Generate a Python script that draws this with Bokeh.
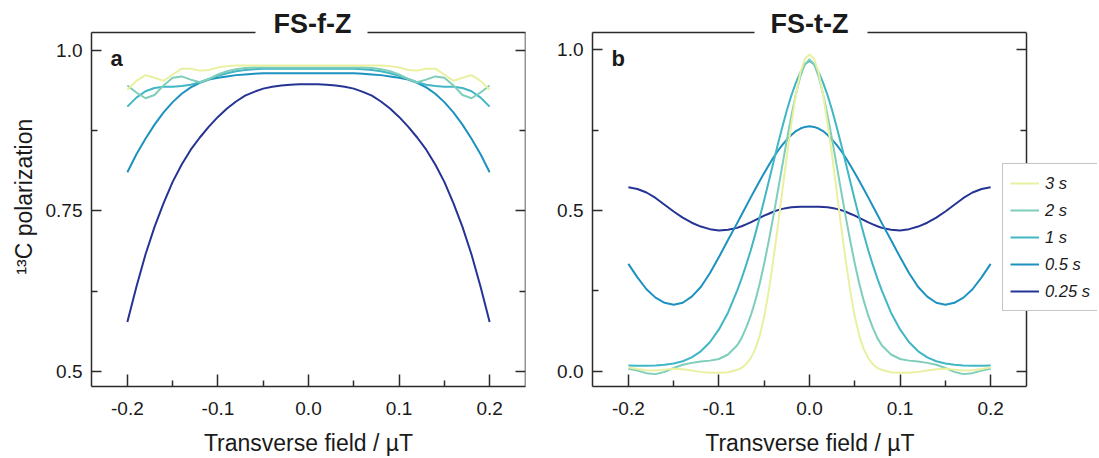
from bokeh.plotting import figure
from bokeh.models import (Range1d, FixedTicker, LinearAxis, Label, Legend,
                          LegendItem, ColumnDataSource, Title)
from bokeh.layouts import row
from bokeh.embed import file_html
from bokeh.resources import INLINE

# ---------------- data ----------------
series_labels = ["3 s", "2 s", "1 s", "0.5 s", "0.25 s"]
series_colors = ["#e9f0a0", "#7fcdbb", "#41b6c4", "#1d91c0", "#253494"]

x_ticks = [-0.2, -0.1, 0.0, 0.1, 0.2]
x_tick_labels = ["-0.2", "-0.1", "0.0", "0.1", "0.2"]
x_minor = [-0.15, -0.05, 0.05, 0.15]

ya_ticks = [0.5, 0.75, 1.0]
ya_tick_labels = ["0.5", "0.75", "1.0"]
ya_minor = [0.625, 0.875]

yb_ticks = [0.0, 0.5, 1.0]
yb_tick_labels = ["0.0", "0.5", "1.0"]
yb_minor = [0.25, 0.75]

# panel a (FS-f-Z)
field_a = [-0.2, -0.19, -0.18, -0.17, -0.16, -0.15, -0.14, -0.13, -0.12, -0.11,
           -0.1, -0.09, -0.08, -0.07, -0.06, -0.05, -0.04, -0.03, -0.02, -0.01,
           0.0, 0.01, 0.02, 0.03, 0.04, 0.05, 0.06, 0.07, 0.08, 0.09, 0.1,
           0.11, 0.12, 0.13, 0.14, 0.15, 0.16, 0.17, 0.18, 0.19, 0.2]
a_3s = [0.938, 0.952, 0.961, 0.957, 0.952, 0.962, 0.971, 0.971, 0.968, 0.969,
        0.973, 0.975, 0.976, 0.976, 0.976, 0.976, 0.976, 0.976, 0.976, 0.976,
        0.976, 0.976, 0.976, 0.976, 0.976, 0.976, 0.976, 0.976, 0.976, 0.975,
        0.973, 0.969, 0.968, 0.971, 0.971, 0.962, 0.952, 0.957, 0.961, 0.952, 0.938]
a_2s = [0.945, 0.934, 0.925, 0.930, 0.945, 0.957, 0.959, 0.954, 0.950, 0.955,
        0.962, 0.967, 0.970, 0.972, 0.973, 0.973, 0.973, 0.973, 0.973, 0.973,
        0.973, 0.973, 0.973, 0.973, 0.973, 0.973, 0.973, 0.972, 0.970, 0.967,
        0.962, 0.955, 0.950, 0.954, 0.959, 0.957, 0.945, 0.930, 0.925, 0.934, 0.945]
a_1s = [0.912, 0.926, 0.936, 0.941, 0.943, 0.943, 0.944, 0.946, 0.950, 0.955,
        0.960, 0.964, 0.967, 0.969, 0.970, 0.971, 0.971, 0.971, 0.971, 0.971,
        0.971, 0.971, 0.971, 0.971, 0.971, 0.971, 0.970, 0.969, 0.967, 0.964,
        0.960, 0.955, 0.950, 0.946, 0.944, 0.943, 0.943, 0.941, 0.936, 0.926, 0.912]
a_05s = [0.810, 0.838, 0.862, 0.884, 0.903, 0.919, 0.932, 0.942, 0.949, 0.954,
         0.957, 0.959, 0.961, 0.962, 0.963, 0.964, 0.964, 0.964, 0.964, 0.964,
         0.964, 0.964, 0.964, 0.964, 0.964, 0.964, 0.963, 0.962, 0.961, 0.959,
         0.957, 0.954, 0.949, 0.942, 0.932, 0.919, 0.903, 0.884, 0.862, 0.838, 0.810]
a_025s = [0.577, 0.632, 0.682, 0.725, 0.762, 0.795, 0.822, 0.845, 0.864, 0.881,
          0.896, 0.909, 0.920, 0.929, 0.935, 0.940, 0.943, 0.945, 0.946, 0.947,
          0.947, 0.947, 0.946, 0.945, 0.943, 0.940, 0.935, 0.929, 0.920, 0.909,
          0.896, 0.881, 0.864, 0.845, 0.822, 0.795, 0.762, 0.725, 0.682, 0.632, 0.577]

# panel b (FS-t-Z)
field_b = [-0.2, -0.19, -0.18, -0.17, -0.16, -0.15, -0.14, -0.13, -0.12, -0.11,
           -0.1, -0.09, -0.08, -0.075, -0.07, -0.065, -0.06, -0.055, -0.05,
           -0.045, -0.04, -0.035, -0.03, -0.025, -0.02, -0.015, -0.01, -0.005,
           0.0, 0.005, 0.01, 0.015, 0.02, 0.025, 0.03, 0.035, 0.04, 0.045, 0.05,
           0.055, 0.06, 0.065, 0.07, 0.075, 0.08, 0.09, 0.1, 0.11, 0.12, 0.13,
           0.14, 0.15, 0.16, 0.17, 0.18, 0.19, 0.2]
b_3s = [0.012, 0.007, 0.003, 0.002, 0.005, 0.008, 0.006, 0.002, -0.002, -0.005,
        -0.005, -0.003, 0.004, 0.010, 0.022, 0.040, 0.068, 0.110, 0.170, 0.250,
        0.345, 0.450, 0.560, 0.670, 0.770, 0.860, 0.930, 0.972, 0.985,
        0.972, 0.930, 0.860, 0.770, 0.670, 0.560, 0.450, 0.345, 0.250, 0.170,
        0.110, 0.068, 0.040, 0.022, 0.010, 0.004, -0.003, -0.005, -0.005, -0.002,
        0.002, 0.006, 0.008, 0.005, 0.002, 0.003, 0.007, 0.012]
b_2s = [0.008, 0.002, -0.006, -0.009, -0.002, 0.010, 0.020, 0.026, 0.030, 0.033,
        0.038, 0.052, 0.080, 0.103, 0.135, 0.172, 0.218, 0.272, 0.335, 0.405,
        0.480, 0.560, 0.640, 0.720, 0.795, 0.862, 0.918, 0.955, 0.970,
        0.955, 0.918, 0.862, 0.795, 0.720, 0.640, 0.560, 0.480, 0.405, 0.335,
        0.272, 0.218, 0.172, 0.135, 0.103, 0.080, 0.052, 0.038, 0.033, 0.030,
        0.026, 0.020, 0.010, -0.002, -0.009, -0.006, 0.002, 0.008]
b_1s = [0.018, 0.017, 0.017, 0.018, 0.020, 0.024, 0.031, 0.043, 0.062, 0.090,
        0.130, 0.182, 0.250, 0.288, 0.330, 0.375, 0.425, 0.478, 0.533, 0.590,
        0.648, 0.705, 0.760, 0.812, 0.858, 0.898, 0.930, 0.955, 0.965,
        0.955, 0.930, 0.898, 0.858, 0.812, 0.760, 0.705, 0.648, 0.590, 0.533,
        0.478, 0.425, 0.375, 0.330, 0.288, 0.250, 0.182, 0.130, 0.090, 0.062,
        0.043, 0.031, 0.024, 0.020, 0.018, 0.017, 0.017, 0.018]
b_05s = [0.334, 0.292, 0.255, 0.229, 0.213, 0.207, 0.213, 0.232, 0.262, 0.305,
         0.355, 0.408, 0.460, 0.487, 0.513, 0.540, 0.566, 0.592, 0.617, 0.641,
         0.664, 0.685, 0.704, 0.720, 0.735, 0.747, 0.755, 0.760, 0.762,
         0.760, 0.755, 0.747, 0.735, 0.720, 0.704, 0.685, 0.664, 0.641, 0.617,
         0.592, 0.566, 0.540, 0.513, 0.487, 0.460, 0.408, 0.355, 0.305, 0.262,
         0.232, 0.213, 0.207, 0.213, 0.229, 0.255, 0.292, 0.334]
b_025s = [0.572, 0.567, 0.556, 0.539, 0.518, 0.497, 0.478, 0.462, 0.450, 0.442,
          0.438, 0.440, 0.446, 0.451, 0.457, 0.463, 0.470, 0.477, 0.484, 0.490,
          0.496, 0.501, 0.505, 0.508, 0.510, 0.511, 0.512, 0.512, 0.512,
          0.512, 0.512, 0.511, 0.510, 0.508, 0.505, 0.501, 0.496, 0.490, 0.484,
          0.477, 0.470, 0.463, 0.457, 0.451, 0.446, 0.440, 0.438, 0.442, 0.450,
          0.462, 0.478, 0.497, 0.518, 0.539, 0.556, 0.567, 0.572]

# ---------------- styling ----------------
FONT = "Liberation Sans"
INK = "#1a1a1a"
AXC = "#2b2b2b"
FRAME_H = 355
XLO, XHI = -0.2396, 0.2396        # visible box of each panel (data units)
NBSP = "\u00a0"


def axis_common(ax):
    ax.axis_line_color = AXC
    ax.axis_line_width = 1.5
    ax.major_tick_line_color = AXC
    ax.major_tick_line_width = 1.5
    ax.minor_tick_line_color = AXC
    ax.minor_tick_line_width = 1.5
    ax.major_label_text_font = FONT
    ax.major_label_text_font_size = "19px"
    ax.major_label_text_color = INK
    ax.axis_label_text_font = FONT
    ax.axis_label_text_font_size = "23px"
    ax.axis_label_text_font_style = "normal"
    ax.axis_label_text_color = INK
    ax.major_tick_out = 0
    ax.minor_tick_out = 0


def make_panel(width, mbl, mbr, x_end, yr, yticks, ylabels, yminor, ylabel,
               xlabel, title, title_offset, gap, letter, xs, ys_list):
    p = figure(width=width, height=458, x_range=Range1d(XLO, x_end),
               y_range=Range1d(*yr), output_backend="svg", title=None,
               toolbar_location=None, x_axis_type=None, y_axis_type=None,
               min_border_left=mbl, min_border_right=mbr, min_border_top=32,
               min_border_bottom=71)
    p.outline_line_color = None
    p.background_fill_color = "white"
    p.border_fill_color = "white"

    xt = FixedTicker(ticks=x_ticks, minor_ticks=x_minor)
    yt = FixedTicker(ticks=yticks, minor_ticks=yminor)

    bottom = LinearAxis(ticker=xt, bounds=(XLO, XHI),
                        major_label_overrides=dict(zip(x_ticks, x_tick_labels)),
                        axis_label=xlabel)
    axis_common(bottom)
    bottom.major_tick_in = 12
    bottom.minor_tick_in = 6
    bottom.major_label_standoff = 15
    bottom.axis_label_standoff = 12
    p.add_layout(bottom, "below")

    left = LinearAxis(ticker=yt,
                      major_label_overrides=dict(zip(yticks, ylabels)),
                      axis_label=ylabel)
    axis_common(left)
    left.major_tick_in = 10
    left.minor_tick_in = 6
    left.major_label_standoff = 9
    left.axis_label_standoff = 6
    p.add_layout(left, "left")

    # right edge of the box: ticks only
    right = LinearAxis(ticker=yt, fixed_location=XHI)
    axis_common(right)
    right.major_tick_in = 10
    right.minor_tick_in = 6
    right.major_label_text_font_size = "1px"
    right.major_label_text_color = None
    right.major_label_standoff = 0
    p.add_layout(right, "right")

    # top border, interrupted where the title sits
    for b in [(XLO, gap[0]), (gap[1], XHI)]:
        top = LinearAxis(ticker=FixedTicker(ticks=[], minor_ticks=[]), bounds=b)
        axis_common(top)
        top.major_tick_in = 0
        top.minor_tick_in = 0
        top.major_label_text_font_size = "1px"
        top.major_label_text_color = None
        top.major_label_standoff = 0
        p.add_layout(top, "above")

    p.add_layout(Title(text=title, align="left", offset=title_offset,
                       vertical_align="bottom", standoff=-12,
                       text_font=FONT, text_font_size="27px",
                       text_font_style="bold", text_color=INK), "above")

    p.xgrid.visible = False
    p.ygrid.visible = False

    src = ColumnDataSource(dict(x=xs, s3=ys_list[0], s2=ys_list[1], s1=ys_list[2],
                                s05=ys_list[3], s025=ys_list[4]))
    cols = ["s3", "s2", "s1", "s05", "s025"]
    rends = {}
    for col, color in reversed(list(zip(cols, series_colors))):
        rends[col] = p.line("x", col, source=src, line_color=color, line_width=2,
                            line_join="round")

    p.add_layout(Label(x=19, y=FRAME_H - 27, x_units="screen", y_units="screen",
                       text=letter, text_font=FONT, text_font_size="22px",
                       text_font_style="bold", text_color=INK,
                       text_align="left", text_baseline="alphabetic"))
    return p, [rends[c] for c in cols]


# panel a: frame 91..525 px
pa, _ = make_panel(553, 91, 28, XHI, (0.4767, 1.0273), ya_ticks, ya_tick_labels,
                   ya_minor, NBSP * 4 + "¹³C polarization", "Transverse field / µT",
                   "FS-f-Z", 182, (-0.0585, 0.0651), "a", field_a,
                   [a_3s, a_2s, a_1s, a_05s, a_025s])
# panel b: drawing area 592..1097 px (box edge at 1026 px, legend beyond it)
pb, rb = make_panel(546, 39, 2, 0.3180, (-0.0475, 1.0537), yb_ticks,
                    yb_tick_labels, yb_minor, None,
                    "Transverse field / µT" + NBSP * 11,
                    "FS-t-Z", 178, (-0.0602, 0.0635), "b", field_b,
                    [b_3s, b_2s, b_1s, b_05s, b_025s])

legend = Legend(items=[LegendItem(label=lab, renderers=[r])
                       for lab, r in zip(series_labels, rb)],
                location=(410, 75), orientation="vertical",
                label_text_font=FONT, label_text_font_style="italic",
                label_text_font_size="16.5px", label_text_color=INK,
                label_height=24, glyph_height=24, glyph_width=29,
                label_standoff=6, spacing=3, padding=7, margin=0,
                border_line_color="#8c8c8c", border_line_width=1,
                background_fill_color="white", background_fill_alpha=1.0)
pb.add_layout(legend)

layout = row(pa, pb)
open("out.html", "w").write(file_html(layout, INLINE))
